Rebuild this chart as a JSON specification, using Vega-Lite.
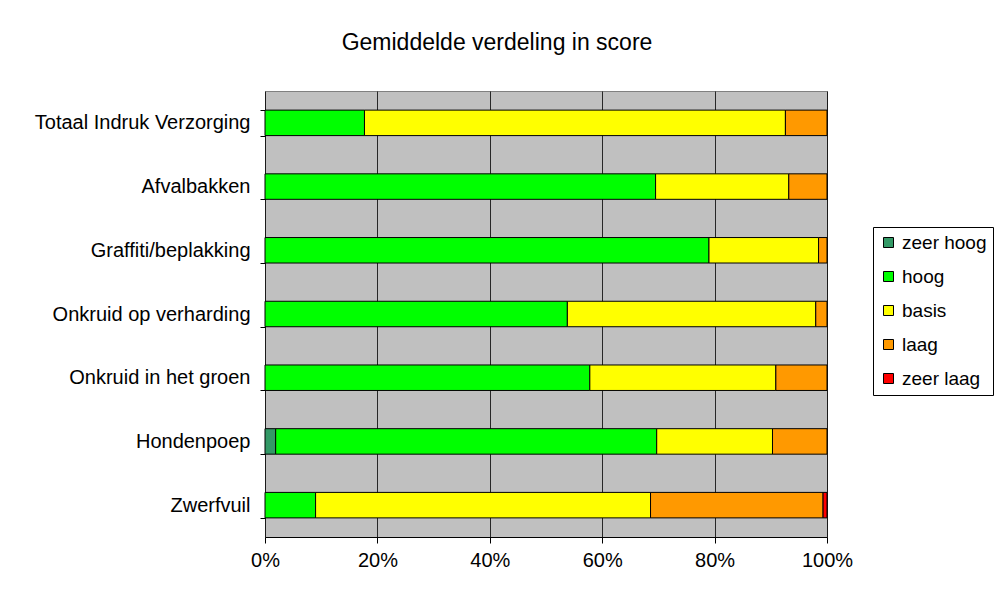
{
  "$schema": "https://vega.github.io/schema/vega-lite/v6.json",
  "width": 562,
  "height": 446,
  "autosize": "none",
  "padding": {"left": 265, "top": 91, "right": 169, "bottom": 59},
  "background": "white",
  "title": {"text": "Gemiddelde verdeling in score", "font": "Liberation Sans", "fontSize": 23, "fontWeight": "normal", "color": "black", "anchor": "middle", "dx": -49, "offset": 26},
  "data": {"values": [
    {"cat": "Totaal Indruk Verzorging", "score": "zeer hoog", "o": 1, "v": 0},
    {"cat": "Totaal Indruk Verzorging", "score": "hoog", "o": 2, "v": 17.7},
    {"cat": "Totaal Indruk Verzorging", "score": "basis", "o": 3, "v": 74.9},
    {"cat": "Totaal Indruk Verzorging", "score": "laag", "o": 4, "v": 7.4},
    {"cat": "Totaal Indruk Verzorging", "score": "zeer laag", "o": 5, "v": 0},
    {"cat": "Afvalbakken", "score": "zeer hoog", "o": 1, "v": 0},
    {"cat": "Afvalbakken", "score": "hoog", "o": 2, "v": 69.5},
    {"cat": "Afvalbakken", "score": "basis", "o": 3, "v": 23.7},
    {"cat": "Afvalbakken", "score": "laag", "o": 4, "v": 6.8},
    {"cat": "Afvalbakken", "score": "zeer laag", "o": 5, "v": 0},
    {"cat": "Graffiti/beplakking", "score": "zeer hoog", "o": 1, "v": 0},
    {"cat": "Graffiti/beplakking", "score": "hoog", "o": 2, "v": 79.0},
    {"cat": "Graffiti/beplakking", "score": "basis", "o": 3, "v": 19.5},
    {"cat": "Graffiti/beplakking", "score": "laag", "o": 4, "v": 1.5},
    {"cat": "Graffiti/beplakking", "score": "zeer laag", "o": 5, "v": 0},
    {"cat": "Onkruid op verharding", "score": "zeer hoog", "o": 1, "v": 0},
    {"cat": "Onkruid op verharding", "score": "hoog", "o": 2, "v": 53.8},
    {"cat": "Onkruid op verharding", "score": "basis", "o": 3, "v": 44.2},
    {"cat": "Onkruid op verharding", "score": "laag", "o": 4, "v": 2.0},
    {"cat": "Onkruid op verharding", "score": "zeer laag", "o": 5, "v": 0},
    {"cat": "Onkruid in het groen", "score": "zeer hoog", "o": 1, "v": 0},
    {"cat": "Onkruid in het groen", "score": "hoog", "o": 2, "v": 57.8},
    {"cat": "Onkruid in het groen", "score": "basis", "o": 3, "v": 33.1},
    {"cat": "Onkruid in het groen", "score": "laag", "o": 4, "v": 9.1},
    {"cat": "Onkruid in het groen", "score": "zeer laag", "o": 5, "v": 0},
    {"cat": "Hondenpoep", "score": "zeer hoog", "o": 1, "v": 1.9},
    {"cat": "Hondenpoep", "score": "hoog", "o": 2, "v": 67.8},
    {"cat": "Hondenpoep", "score": "basis", "o": 3, "v": 20.6},
    {"cat": "Hondenpoep", "score": "laag", "o": 4, "v": 9.7},
    {"cat": "Hondenpoep", "score": "zeer laag", "o": 5, "v": 0},
    {"cat": "Zwerfvuil", "score": "zeer hoog", "o": 1, "v": 0},
    {"cat": "Zwerfvuil", "score": "hoog", "o": 2, "v": 9.0},
    {"cat": "Zwerfvuil", "score": "basis", "o": 3, "v": 59.6},
    {"cat": "Zwerfvuil", "score": "laag", "o": 4, "v": 30.7},
    {"cat": "Zwerfvuil", "score": "zeer laag", "o": 5, "v": 0.7}
  ]},
  "transform": [{"filter": "datum.v > 0"}],
  "mark": {"type": "bar", "stroke": "black", "strokeWidth": 1},
  "encoding": {
    "y": {
      "field": "cat", "type": "nominal", "sort": null, "title": null,
      "scale": {"paddingInner": 0.6, "paddingOuter": 0.3},
      "axis": {"tickBand": "extent", "ticks": true, "tickSize": 5, "tickColor": "black", "domain": false, "grid": false, "labelPadding": 10, "labelFont": "Liberation Sans", "labelFontSize": 20, "labelColor": "black", "labelLimit": 300}
    },
    "x": {
      "field": "v", "type": "quantitative", "stack": "zero", "title": null,
      "scale": {"domain": [0, 100], "nice": false},
      "axis": {"values": [0, 20, 40, 60, 80, 100], "labelExpr": "datum.value + '%'", "grid": true, "gridColor": "black", "gridOpacity": 0.8, "gridWidth": 1, "tickSize": 6, "tickColor": "black", "domainColor": "black", "labelPadding": 7, "labelFont": "Liberation Sans", "labelFontSize": 20, "labelColor": "black", "labelFlush": false}
    },
    "color": {
      "field": "score", "type": "nominal", "title": null,
      "scale": {"domain": ["zeer hoog", "hoog", "basis", "laag", "zeer laag"], "range": ["#339966", "#00FF00", "#FFFF00", "#FF9900", "#FF0000"]},
      "legend": {"orient": "none", "legendX": 608, "legendY": 136, "fillColor": "white", "strokeColor": "black", "padding": 6, "symbolType": "square", "symbolSize": 100, "symbolStrokeColor": "black", "symbolStrokeWidth": 1, "labelFont": "Liberation Sans", "labelFontSize": 19, "labelColor": "black", "rowPadding": 14, "labelOffset": 4, "labelLimit": 200}
    },
    "order": {"field": "o", "type": "quantitative"}
  },
  "config": {"view": {"fill": "#C0C0C0", "stroke": "#808080", "strokeWidth": 1}}
}
